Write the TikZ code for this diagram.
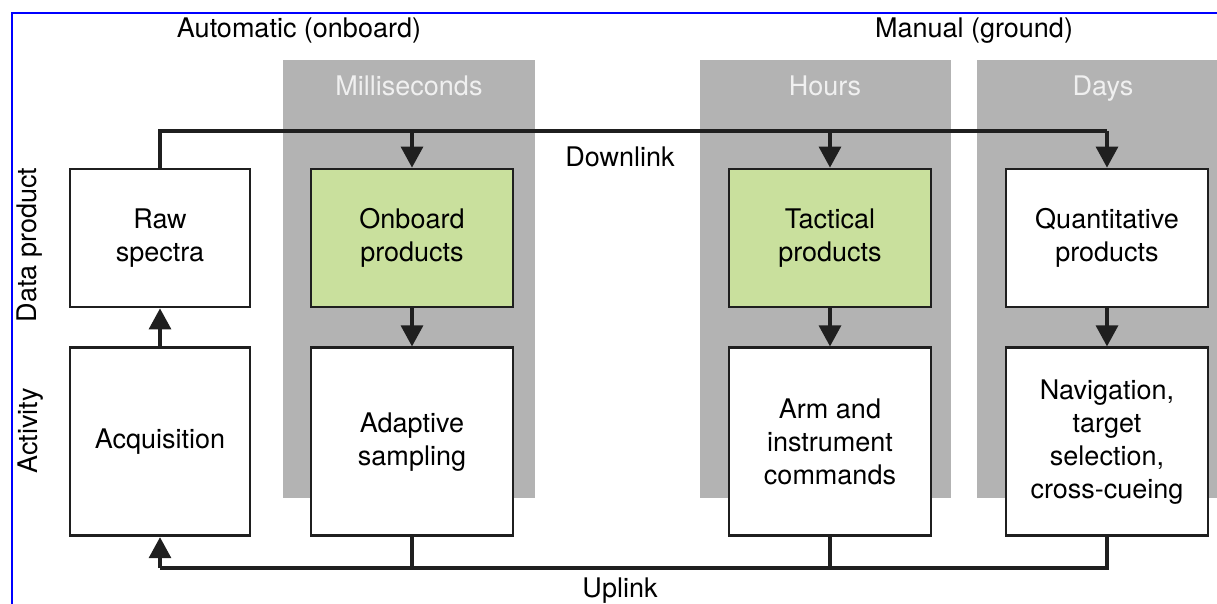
\documentclass[tikz,border=0pt]{standalone}
\usepackage{fontspec}
\setmainfont{TeX Gyre Heros}
\usepackage{xcolor}
\usepackage{tikz}
\usetikzlibrary{arrows.meta, positioning}
\definecolor{bandgray}{RGB}{179,179,179}
\definecolor{prodgreen}{RGB}{201,224,157}
\definecolor{framblue}{RGB}{0,0,255}
\newcommand{\boxfont}{\fontsize{13.5pt}{16.5pt}\selectfont}
\tikzset{
  sbox/.style={
    rectangle, draw=black!88, fill=white, line width=1.4pt,
    align=center, font=\boxfont, inner sep=2pt
  },
  gbox/.style={sbox, fill=prodgreen},
  arr/.style={
    -{Triangle[length=10.5pt,width=11pt]},
    black!88, line width=1.6pt
  },
  link/.style={black!88, line width=1.6pt},
  lbl/.style={font=\boxfont, inner sep=0pt, text height=9.7pt, text depth=0pt},
  bandlbl/.style={lbl, text=white!94!black},
}
\begin{document}
\begin{tikzpicture}[x=0.5pt, y=-0.5pt]
  \useasboundingbox (0,0) rectangle (1217,604);
  % time scale bands
  \fill[bandgray] (283,60) rectangle (535,498);
  \fill[bandgray] (700,60) rectangle (951,498);
  \fill[bandgray] (977,60) rectangle (1217,498);
  \node[bandlbl] (ms)   at (409,86)  {Milliseconds};
  \node[bandlbl] (hrs)  at (825,86)  {Hours};
  \node[bandlbl] (days) at (1103,86) {Days};
  % frame
  \draw[framblue, line width=1.2pt] (12,604) -- (12,13) -- (1217,13);
  % headings
  \node[lbl] (auto) at (299,28) {Automatic (onboard)};
  \node[lbl] (man)  at (974,28) {Manual (ground)};
  \node[lbl, rotate=90] (dp)  at (27,245) {Data product};
  \node[lbl, rotate=90] (act) at (28,431) {Activity};
  % data products
  \node[sbox, minimum width=90pt, minimum height=69pt] (raw) at (160,238)
    {Raw\\spectra};
  \node[gbox, minimum width=101pt, minimum height=69pt] (onb) at (412,238)
    {Onboard\\products};
  \node[gbox, minimum width=101pt, minimum height=69pt] (tac) at (830,238)
    {Tactical\\products};
  \node[sbox, minimum width=101pt, minimum height=69pt] (quant) at (1107,238)
    {Quantitative\\products};
  % activities
  \node[sbox, minimum width=90pt, minimum height=94pt, below=19pt of raw] (acq)
    {Acquisition};
  \node[sbox, minimum width=101pt, minimum height=94pt, below=19pt of onb] (adapt)
    {Adaptive\\sampling};
  \node[sbox, minimum width=101pt, minimum height=94pt, below=19pt of tac] (arm)
    {Arm and\\instrument\\commands};
  \node[sbox, minimum width=101pt, minimum height=94pt, below=19pt of quant] (nav)
    {Navigation,\\target\\selection,\\cross-cueing};
  % downlink
  \coordinate (dlev) at (0,131);
  \draw[link] (raw.north) -- (raw.north |- dlev) -- (quant.north |- dlev);
  \foreach \n in {onb,tac,quant}
    \draw[arr] (\n.north |- dlev) -- (\n.north);
  \node[lbl] (down) at (620,157) {Downlink};
  % product to activity
  \draw[arr] (acq) -- (raw);
  \draw[arr] (onb) -- (adapt);
  \draw[arr] (tac) -- (arm);
  \draw[arr] (quant) -- (nav);
  % uplink
  \coordinate (ulev) at (0,568);
  \draw[link] (nav.south) -- (nav.south |- ulev) -- (acq.south |- ulev);
  \draw[link] (adapt.south) -- (adapt.south |- ulev);
  \draw[link] (arm.south) -- (arm.south |- ulev);
  \draw[arr] (acq.south |- ulev) -- (acq.south);
  \node[lbl] (up) at (620,588) {Uplink};
\end{tikzpicture}
\end{document}
